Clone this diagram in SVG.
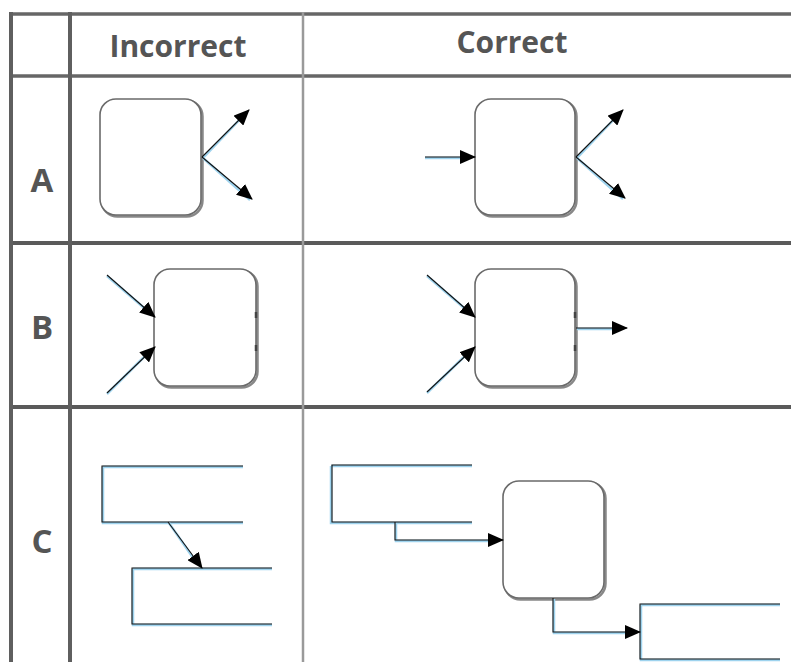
<svg xmlns="http://www.w3.org/2000/svg" width="791" height="662" viewBox="0 0 791 662">
<style>
.hl{stroke:#666;stroke-width:3.5;fill:none}
.vl{stroke:#5f5f5f;stroke-width:4;fill:none}
.vd{stroke:#9a9a9a;stroke-width:2.5;fill:none}
.hdr{font-family:"Open Sans","Liberation Sans",sans-serif;font-weight:bold;font-size:30px;fill:#555}
.lbl{font-family:"Open Sans","Liberation Sans",sans-serif;font-weight:bold;font-size:33px;fill:#555}
.box{fill:#fff;stroke:#6a6a6a;stroke-width:1.6}
.shd{fill:none;stroke:#888;stroke-width:2.5}
.glow{fill:none;stroke:#9ed3ee;stroke-width:2.5}
.ln{fill:none;stroke:#111;stroke-width:1.1}
.arr{marker-end:url(#ah)}
</style>
<defs>
<marker id="ah" markerUnits="userSpaceOnUse" markerWidth="16" markerHeight="14" refX="15" refY="7" orient="auto">
<path d="M0,0 L16,7 L0,14 Z" fill="#000"/>
</marker>
</defs>
<rect width="791" height="662" fill="#fff"/>
<g id="table">
<line class="hl" x1="10" y1="14" x2="791" y2="14"/>
<line class="hl" x1="10" y1="76" x2="791" y2="76"/>
<line class="hl" x1="10" y1="243" x2="791" y2="243" style="stroke:#5a5a5a;stroke-width:4"/>
<line class="hl" x1="10" y1="407" x2="791" y2="407" style="stroke:#5a5a5a;stroke-width:4"/>
<line class="vl" x1="11" y1="12" x2="11" y2="662"/>
<line class="vl" x1="70" y1="12" x2="70" y2="662"/>
<line class="vd" x1="303" y1="12" x2="303" y2="662"/>
<text class="hdr" x="178" y="57" text-anchor="middle">Incorrect</text>
<text class="hdr" x="512" y="53" text-anchor="middle">Correct</text>
<text class="lbl" x="42" y="192" text-anchor="middle">A</text>
<text class="lbl" x="42" y="339" text-anchor="middle">B</text>
<text class="lbl" x="42" y="553" text-anchor="middle">C</text>
</g>
<g id="nodeA1">
<rect class="shd" x="101.5" y="100.5" width="101" height="116" rx="16"/>
<rect class="box" x="100" y="99" width="101" height="116" rx="16"/>
</g>
<g id="nodeA2">
<rect class="shd" x="476.5" y="100.5" width="100" height="116" rx="16"/>
<rect class="box" x="475" y="99" width="100" height="116" rx="16"/>
</g>
<g id="nodeB1">
<rect class="shd" x="155.5" y="270.5" width="102" height="117" rx="16"/>
<rect class="box" x="154" y="269" width="102" height="117" rx="16"/>
<line x1="256" y1="312" x2="256" y2="318" stroke="#444" stroke-width="2.5"/>
<line x1="256" y1="345" x2="256" y2="351" stroke="#444" stroke-width="2.5"/>
</g>
<g id="nodeB2">
<rect class="shd" x="476.5" y="270.5" width="100" height="117" rx="16"/>
<rect class="box" x="475" y="269" width="100" height="117" rx="16"/>
<line x1="575" y1="312" x2="575" y2="318" stroke="#444" stroke-width="2.5"/>
<line x1="575" y1="345" x2="575" y2="351" stroke="#444" stroke-width="2.5"/>
</g>
<g id="nodeC2">
<rect class="shd" x="504.5" y="482.5" width="101" height="117" rx="16"/>
<rect class="box" x="503" y="481" width="101" height="117" rx="16"/>
</g>
<g id="bracketC1a">
<path class="glow" d="M103,467 H243 M103,467 V523 H243"/>
<path class="ln" d="M243,466 H102 V522 H243"/>
</g>
<g id="bracketC1b">
<path class="glow" d="M133,569 H272 M133,569 V625 H272"/>
<path class="ln" d="M272,568 H132 V624 H272"/>
</g>
<g id="bracketC2a">
<path class="glow" d="M331,466 H472 M331,466 V523 H472"/>
<path class="ln" d="M472,465 H332 V522 H472"/>
</g>
<g id="bracketC2b">
<path class="glow" d="M641,605 H780 M641,605 V660 H780"/>
<path class="ln" d="M780,604 H640 V659 H780"/>
</g>
<g id="connectors">
<!-- glow shadows -->
<path class="glow" d="M203,158 L247,112"/>
<path class="glow" d="M203,158 L250,200"/>
<path class="glow" d="M425,158 L470,158"/>
<path class="glow" d="M577,158 L621,112"/>
<path class="glow" d="M577,158 L623,199"/>
<path class="glow" d="M107,276 L150,313"/>
<path class="glow" d="M107,394 L150,351"/>
<path class="glow" d="M427,276 L470,313"/>
<path class="glow" d="M427,393 L470,351"/>
<path class="glow" d="M577,329 L615,329"/>
<path class="glow" d="M169,523 L196,562"/>
<path class="glow" d="M396,523 V541 H495"/>
<path class="glow" d="M554,599 V633 H632"/>
<!-- black lines with arrowheads -->
<path class="ln arr" d="M202,157 L249,110"/>
<path class="ln arr" d="M202,157 L252,199"/>
<path class="ln arr" d="M425,157 L475,157"/>
<path class="ln arr" d="M576,157 L623,110"/>
<path class="ln arr" d="M576,157 L625,198"/>
<path class="ln arr" d="M107,275 L155,317"/>
<path class="ln arr" d="M107,393 L155,347"/>
<path class="ln arr" d="M427,275 L475,317"/>
<path class="ln arr" d="M427,392 L475,347"/>
<path class="ln arr" d="M576,328 L627,328"/>
<path class="ln arr" d="M168,522 L202,568"/>
<path class="ln arr" d="M395,522 V540 H503"/>
<path class="ln arr" d="M553,598 V632 H640"/>
</g>
</svg>
